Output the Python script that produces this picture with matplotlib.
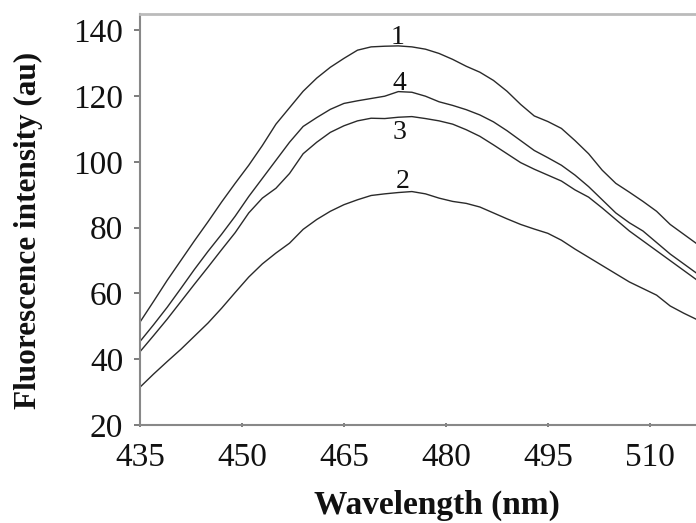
import matplotlib
matplotlib.use("Agg")
import matplotlib.pyplot as plt

wavelength = [435, 437, 439, 441, 443, 445, 447, 449, 451, 453, 455, 457, 459, 461,
              463, 465, 467, 469, 471, 473, 475, 477, 479, 481, 483, 485, 487, 489,
              491, 493, 495, 497, 499, 501, 503, 505, 507, 509, 511, 513, 515, 517]

curve1 = [51.3, 57.6, 64.0, 70.0, 76.0, 81.8, 87.8, 93.5, 99.0, 105.0, 111.5, 116.5,
          121.5, 125.5, 128.8, 131.5, 134.0, 135.0, 135.2, 135.3, 135.0, 134.3, 133.0,
          131.2, 129.1, 127.3, 124.8, 121.5, 117.5, 114.0, 112.3, 110.2, 106.5, 102.5,
          97.5, 93.5, 90.8, 88.0, 85.0, 81.0, 78.0, 75.0]
curve4 = [45.4, 50.5, 55.8, 61.5, 67.3, 72.8, 78.0, 83.5, 89.5, 95.0, 100.5, 106.0,
          110.8, 113.5, 116.0, 117.8, 118.6, 119.3, 120.0, 121.4, 121.2, 120.0, 118.3,
          117.2, 115.9, 114.3, 112.2, 109.5, 106.5, 103.5, 101.3, 99.0, 96.0, 92.5,
          88.5, 84.5, 81.5, 79.0, 75.5, 72.0, 69.0, 66.0]
curve3 = [42.3, 47.2, 52.2, 57.5, 62.8, 68.0, 73.3, 78.5, 84.5, 89.0, 92.0, 96.5,
          102.5, 106.0, 109.0, 111.0, 112.5, 113.3, 113.2, 113.6, 113.8, 113.2, 112.5,
          111.5, 109.8, 107.8, 105.2, 102.5, 99.8, 97.8, 96.0, 94.2, 91.5, 89.3, 86.0,
          82.5, 79.0, 76.0, 73.0, 70.0, 67.0, 64.0]
curve2 = [31.5, 35.5, 39.3, 43.0, 47.0, 51.0, 55.5, 60.3, 65.0, 69.0, 72.3, 75.3,
          79.5, 82.5, 85.0, 87.0, 88.5, 89.8, 90.3, 90.7, 91.0, 90.3, 89.0, 88.0, 87.4,
          86.3, 84.5, 82.7, 81.0, 79.6, 78.3, 76.2, 73.5, 71.0, 68.5, 66.0, 63.5, 61.5,
          59.5, 56.2, 54.0, 52.0]

curve_labels = ["1", "4", "3", "2"]
label_x = [472.9, 473.2, 473.2, 473.7]
label_y = [138.0, 124.0, 109.0, 94.0]

xticks = [435, 450, 465, 480, 495, 510]
yticks = [20, 40, 60, 80, 100, 120, 140]

plt.rcParams['font.family'] = ['Liberation Serif', 'DejaVu Serif']

fig = plt.figure(figsize=(6.96, 5.23), dpi=100)
ax = fig.add_axes([140/696, 1-425/523, 1-140/696, (425-14)/523])

for ys in (curve1, curve4, curve3, curve2):
    ax.plot(wavelength, ys, color='#2a2a2a', lw=1.0)

for t, x, y in zip(curve_labels, label_x, label_y):
    ax.text(x, y, t, fontsize=20, ha='center', va='center', color='#111111')

ax.set_xlim(435, 516.8)
ax.set_ylim(20, 145)
ax.set_xticks(xticks)
ax.set_yticks(yticks)
ax.tick_params(axis='y', labelsize=24, colors='#666666', labelcolor='#111111',
               length=4, width=1.2, direction='out', pad=8)
ax.tick_params(axis='x', labelsize=24, colors='#666666', labelcolor='#111111',
               length=3, width=1.2, direction='inout', pad=11)

ax.spines['right'].set_visible(False)
ax.spines['top'].set_color('#bbbbbb')
ax.spines['top'].set_linewidth(2)
for s in ('left', 'bottom'):
    ax.spines[s].set_color('#888888')
    ax.spines[s].set_linewidth(1.5)

fig.text(437/696, 1-514/523, "Wavelength (nm)", fontsize=24, fontweight='bold',
         ha='center', va='baseline', color='#111111')
fig.text(28/696, 1-230/523, "Fluorescence intensity (au)", fontsize=22.5,
         fontweight='bold', ha='center', va='center', rotation=90, color='#111111')

fig.savefig("out.png", dpi=100)
